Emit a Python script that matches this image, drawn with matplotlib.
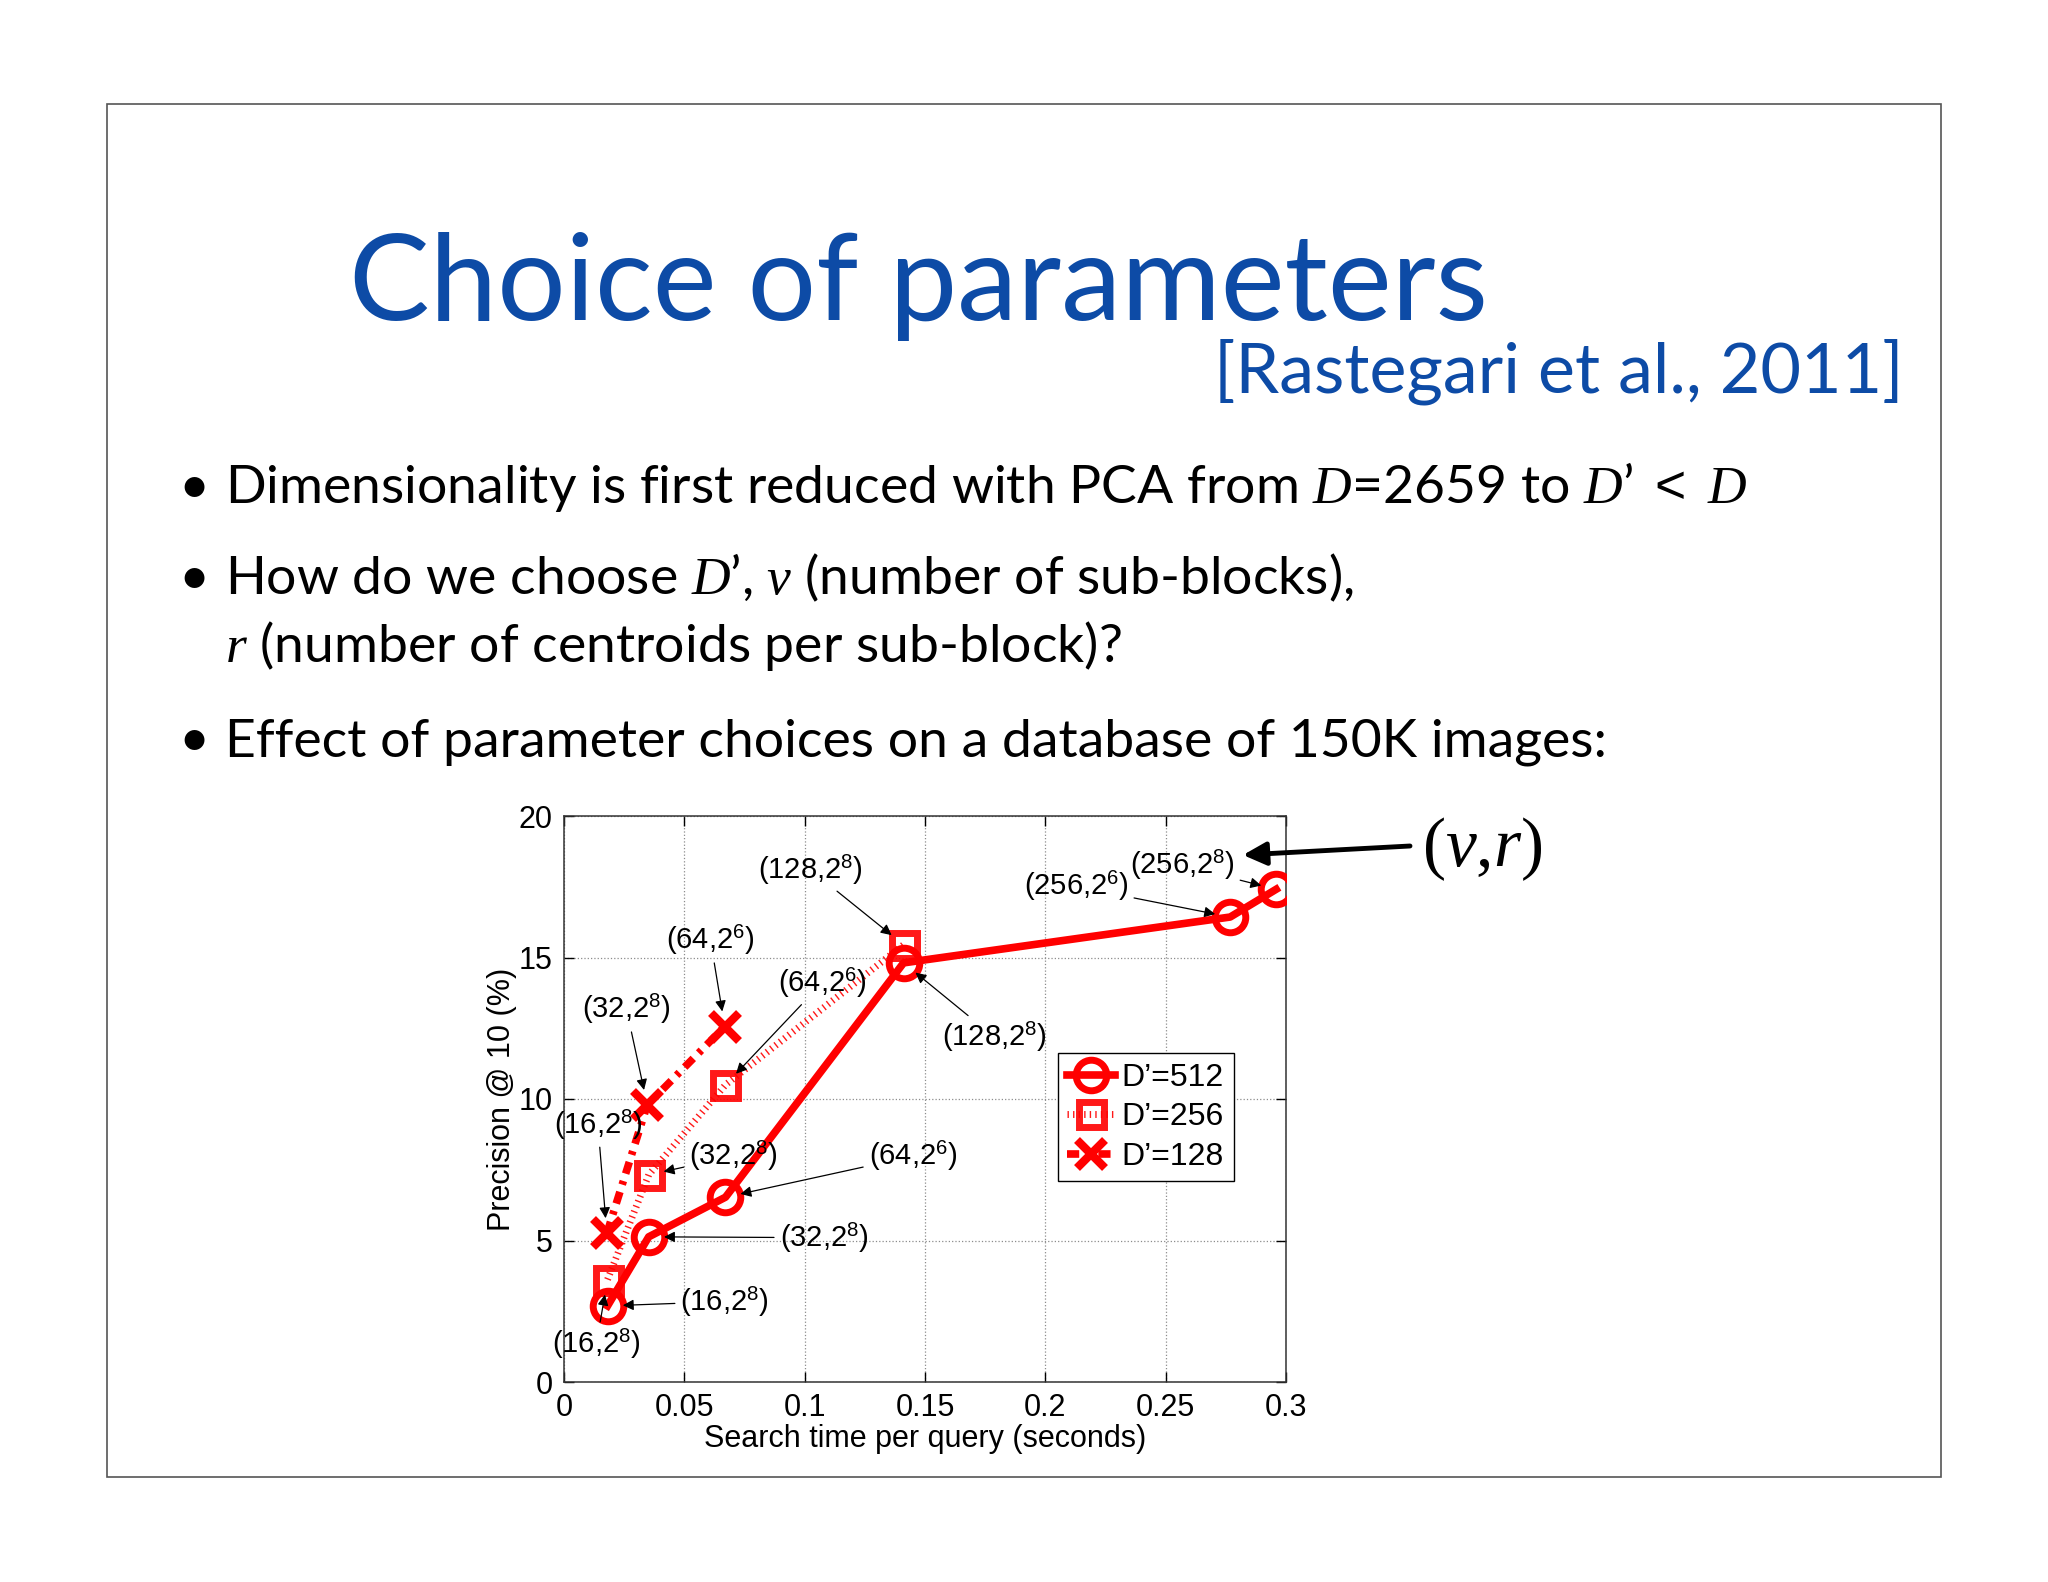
import matplotlib
matplotlib.use("Agg")
import matplotlib.pyplot as plt
from matplotlib.patches import Rectangle

plt.rcParams['font.family'] = ['Liberation Sans', 'DejaVu Sans']
plt.rcParams['mathtext.fontset'] = 'custom'
plt.rcParams['mathtext.rm'] = 'Liberation Sans'
plt.rcParams['mathtext.it'] = 'Liberation Serif:italic'

# search time per query (s) and precision@10 (%) for each reduced dimension D'
time_512 = [0.0181, 0.0352, 0.0671, 0.1411, 0.2768, 0.2959]
prec_512 = [2.69, 5.13, 6.53, 14.81, 16.43, 17.41]
labels_512 = ["(16,2${}^{8}$)", "(32,2${}^{8}$)", "(64,2${}^{6}$)",
              "(128,2${}^{8}$)", "(256,2${}^{6}$)", "(256,2${}^{8}$)"]
text_512 = [(0.0668, 2.84), (0.108, 5.1), (0.145, 7.98),
            (0.1788, 12.19), (0.2128, 17.51), (0.2569, 18.25)]

time_256 = [0.0181, 0.0352, 0.0671, 0.1411]
prec_256 = [3.62, 7.32, 10.5, 15.45]
labels_256 = ["(16,2${}^{8}$)", "(32,2${}^{8}$)", "(64,2${}^{6}$)", "(128,2${}^{8}$)"]
text_256 = [(0.0134, 1.33), (0.0705, 7.98), (0.1072, 14.1), (0.1024, 18.1)]

time_128 = [0.0178, 0.0346, 0.0668]
prec_128 = [5.25, 9.79, 12.56]
labels_128 = ["(16,2${}^{8}$)", "(32,2${}^{8}$)", "(64,2${}^{6}$)"]
text_128 = [(0.0141, 9.09), (0.026, 13.16), (0.0609, 15.6)]

x_ticks = [0, 0.05, 0.1, 0.15, 0.2, 0.25, 0.3]
x_ticklabels = ["0", "0.05", "0.1", "0.15", "0.2", "0.25", "0.3"]
y_ticks = [0, 5, 10, 15, 20]

title = "Choice of parameters"
citation = "[Rastegari et al., 2011]"
bullets = [
    ("\u2022", "Dimensionality is first reduced with PCA from $D$=2659 to $D$\u2019 $<$ $D$"),
    ("\u2022", "How do we choose $D$\u2019, $v$ (number of sub-blocks),"),
    ("", "$r$ (number of centroids per sub-block)?"),
    ("\u2022", "Effect of parameter choices on a database of 150K images:"),
]
bullet_y = [0.682, 0.6245, 0.5815, 0.5221]

W, H = 2048, 1582
fig = plt.figure(figsize=(W / 100, H / 100), dpi=100)
fig.patch.set_facecolor('white')

# slide frame
fig.add_artist(Rectangle((107 / W, 1 - 1477 / H), (1941 - 107) / W, (1477 - 104) / H,
                         transform=fig.transFigure, fill=False, edgecolor='#555555', lw=1.2))

blue = '#0D4BA6'
fig.text(0.4485, 0.7977, title, family='Lato', fontsize=87, color=blue, ha='center', va='baseline')
fig.text(0.9297, 0.7516, citation, family='Lato', fontsize=50.5, color=blue, ha='right', va='baseline')

for (b, line), yy in zip(bullets, bullet_y):
    if b:
        fig.text(178 / W, yy, b, family='Lato', fontsize=38.5, va='baseline')
    fig.text(225 / W, yy, line, family='Lato', fontsize=38.5, va='baseline')

ax = fig.add_axes([564 / W, 1 - 1382 / H, 722 / W, 566 / H])
red = '#ff0000'
ax.plot(time_512, prec_512, color=red, lw=5.5, marker='o', ms=22, mew=5,
        mfc='none', label="D\u2019=512", zorder=4)
ax.plot(time_256, prec_256, color=red, lw=5, dashes=(0.2, 0.6), dash_capstyle='butt',
        marker='s', ms=18, mew=5, mfc='none', label="D\u2019=256", zorder=3, alpha=0.9)
ax.plot(time_128, prec_128, color=red, lw=5.5, dashes=(1.6, 1.0, 0.5, 1.0),
        marker='x', ms=20, mew=6, label="D\u2019=128", zorder=3)

arrow = dict(arrowstyle='-|>', color='black', lw=0.9, mutation_scale=16, shrinkA=2, shrinkB=11)
for xs, ys, labs, pos in [(time_512, prec_512, labels_512, text_512),
                          (time_256, prec_256, labels_256, text_256),
                          (time_128, prec_128, labels_128, text_128)]:
    for x, y, lab, p in zip(xs, ys, labs, pos):
        ax.annotate(lab, xy=(x, y), xytext=p, fontsize=21, ha='center', va='center',
                    arrowprops=arrow, zorder=6)

ax.set_xlim(0, 0.3)
ax.set_ylim(0, 20)
ax.set_xticks(x_ticks)
ax.set_xticklabels(x_ticklabels)
ax.set_yticks(y_ticks)
ax.tick_params(direction='in', length=7, width=1, labelsize=22, top=True, right=True, pad=8)
ax.grid(True, linestyle=':', color='0.55', lw=0.9)
for s in ax.spines.values():
    s.set_color('#333333')
    s.set_linewidth(1.1)
ax.set_xlabel("Search time per query (seconds)", fontsize=22, labelpad=1)
ax.set_ylabel("Precision @ 10 (%)", fontsize=22, labelpad=1)

leg = ax.legend(loc='upper left', bbox_to_anchor=(0.684, 0.581), borderaxespad=0,
                fontsize=23, fancybox=False, framealpha=1, edgecolor='black',
                handlelength=1.5, handletextpad=0.2, borderpad=0.3, labelspacing=0.3)
leg.get_frame().set_linewidth(1.0)

# (v,r) callout
fig.text(0.7236, 0.4633, "($v$,$r$)", family='Liberation Serif', fontsize=50,
         ha='center', va='center')
ax.annotate("", xy=(1243 / W, 1 - 855 / H), xytext=(1410 / W, 1 - 846 / H),
            xycoords='figure fraction', textcoords='figure fraction',
            arrowprops=dict(arrowstyle='-|>', color='black', lw=3.5, mutation_scale=35,
                            shrinkA=0, shrinkB=0))

fig.savefig("out.png", dpi=100)
